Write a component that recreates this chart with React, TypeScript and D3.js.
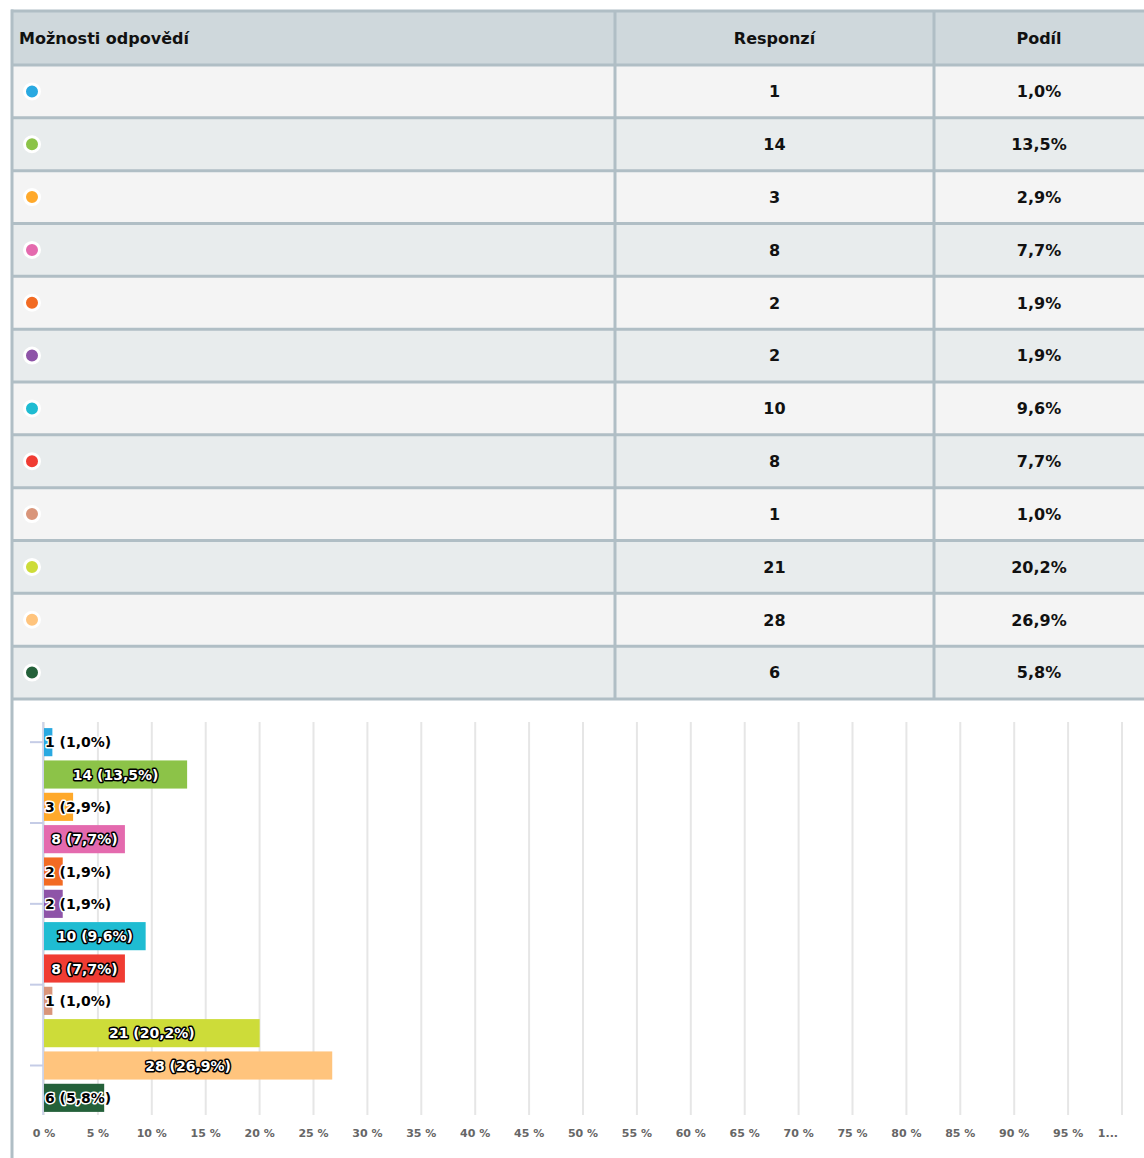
import React from 'react';
import * as d3 from 'd3';

// table + bar chart data
const optionLabels = ['', '', '', '', '', '', '', '', '', '', '', ''];
const responses = [1, 14, 3, 8, 2, 2, 10, 8, 1, 21, 28, 6];
const colors = ['#29a9e1', '#8cc348', '#ffa92b', '#e46aae', '#f26b23', '#8e54a8', '#1fbcd2', '#f03c33', '#d9957a', '#cddc39', '#ffc47d', '#24613a'];
const headers = ['Možnosti odpovědí', 'Responzí', 'Podíl'];
const xTickValues = d3.range(0, 101, 5);
const yTickValues = [0, 2.5, 5, 7.5, 10];

const W = 1144;
const H = 1158;
const FONT = '"DejaVu Sans", sans-serif';
const BORDER = '#b0bec5';

const total = d3.sum(responses);
const pct = (v: number) => ((v / total) * 100).toFixed(1).replace('.', ',') + '%';

// measure label widths so we know if they fit inside the bar
let ctx: CanvasRenderingContext2D | null = null;
function textWidth(t: string) {
  if (!ctx) ctx = document.createElement('canvas').getContext('2d');
  if (!ctx) return t.length * 8.3;
  ctx.font = 'bold 14px "DejaVu Sans"';
  return ctx.measureText(t).width;
}

export default function App() {
  const idx = responses.map((_, i) => i);

  // table geometry
  const tableTop = 11;
  const headBottom = 65;
  const tableBottom = 699;
  const col1 = 615;
  const col2 = 934;
  const col3Center = 1039;
  const rowScale = d3.scaleBand<number>().domain(idx).range([headBottom, tableBottom]);

  // chart geometry
  const x = d3.scaleLinear().domain([0, 100]).range([44, 1122]);
  const y = d3.scaleBand<number>().domain(idx).range([726, 1114]).paddingInner(0.13).paddingOuter(0.065);
  const yLin = d3.scaleLinear()
    .domain([0, idx.length - 1])
    .range([y(0)! + y.bandwidth() / 2, y(idx.length - 1)! + y.bandwidth() / 2]);

  return (
    <svg width={W} height={H} style={{ position: 'absolute', left: 0, top: 0, display: 'block', background: '#fff' }} fontFamily={FONT}>
      {/* header */}
      <rect x={12} y={tableTop} width={W} height={headBottom - tableTop} fill="#cfd8dc" />
      {idx.map(i => (
        <rect key={'bg' + i} x={12} y={rowScale(i)} width={W} height={rowScale.bandwidth()} fill={i % 2 === 0 ? '#f4f4f4' : '#e8eced'} />
      ))}
      {/* borders */}
      {[tableTop, headBottom, ...idx.map(i => rowScale(i)! + rowScale.bandwidth())].map((yy, k) => (
        <line key={'h' + k} x1={11} x2={W} y1={yy} y2={yy} stroke={BORDER} strokeWidth={3} />
      ))}
      {[col1, col2].map(xx => (
        <line key={'v' + xx} x1={xx} x2={xx} y1={tableTop} y2={tableBottom} stroke={BORDER} strokeWidth={3} />
      ))}
      <line x1={12} x2={12} y1={tableTop - 1.5} y2={H} stroke={BORDER} strokeWidth={3} />

      <text x={19} y={(tableTop + headBottom) / 2} dy="0.36em" fontSize={16} fontWeight="bold" fill="#111">{headers[0]}</text>
      <text x={(col1 + col2) / 2} y={(tableTop + headBottom) / 2} dy="0.36em" fontSize={16} fontWeight="bold" fill="#111" textAnchor="middle">{headers[1]}</text>
      <text x={col3Center} y={(tableTop + headBottom) / 2} dy="0.36em" fontSize={16} fontWeight="bold" fill="#111" textAnchor="middle">{headers[2]}</text>

      {idx.map(i => {
        const cy = rowScale(i)! + rowScale.bandwidth() / 2;
        return (
          <g key={'row' + i}>
            <circle cx={32} cy={cy} r={7.5} fill={colors[i]} stroke="#fff" strokeWidth={3} />
            <text x={44} y={cy} dy="0.36em" fontSize={16} fill="#111">{optionLabels[i]}</text>
            <text x={(col1 + col2) / 2} y={cy} dy="0.36em" fontSize={16} fontWeight="bold" fill="#111" textAnchor="middle">{responses[i]}</text>
            <text x={col3Center} y={cy} dy="0.36em" fontSize={16} fontWeight="bold" fill="#111" textAnchor="middle">{pct(responses[i])}</text>
          </g>
        );
      })}

      {/* grid */}
      {xTickValues.map(t => (
        <line key={'g' + t} x1={x(t)} x2={x(t)} y1={722} y2={1115} stroke="#e6e6e6" strokeWidth={2} />
      ))}
      {xTickValues.map(t => (
        t === 100
          ? <text key={'xt' + t} x={x(t) - 4} y={1137} fontSize={11} fontWeight="bold" fill="#666" textAnchor="end">1...</text>
          : <text key={'xt' + t} x={x(t)} y={1137} fontSize={11} fontWeight="bold" fill="#666" textAnchor="middle">{t + ' %'}</text>
      ))}

      {/* y axis */}
      <line x1={43} x2={43} y1={722} y2={1115} stroke="#c5cce6" strokeWidth={1.5} />
      {yTickValues.map(t => (
        <line key={'yt' + t} x1={30} x2={43} y1={yLin(t)} y2={yLin(t)} stroke="#c5cce6" strokeWidth={2} />
      ))}

      {/* bars */}
      {idx.map(i => {
        const v = (responses[i] / total) * 100;
        const w = Math.max(x(v) - x(0) - 2, 1);
        const label = `${responses[i]} (${pct(responses[i])})`;
        const inside = textWidth(label) + 6 < w;
        const cy = y(i)! + y.bandwidth() / 2;
        return (
          <g key={'bar' + i}>
            <rect x={x(0)} y={y(i)} width={w} height={y.bandwidth()} fill={colors[i]} />
            <text
              x={inside ? x(0) + w / 2 : x(0) + 1}
              y={cy}
              dy="0.36em"
              fontSize={14}
              fontWeight="bold"
              textAnchor={inside ? 'middle' : 'start'}
              fill={inside ? '#fff' : '#000'}
              stroke={inside ? '#000' : '#fff'}
              strokeWidth={3}
              strokeLinejoin="round"
              paintOrder="stroke"
            >{label}</text>
          </g>
        );
      })}
    </svg>
  );
}
